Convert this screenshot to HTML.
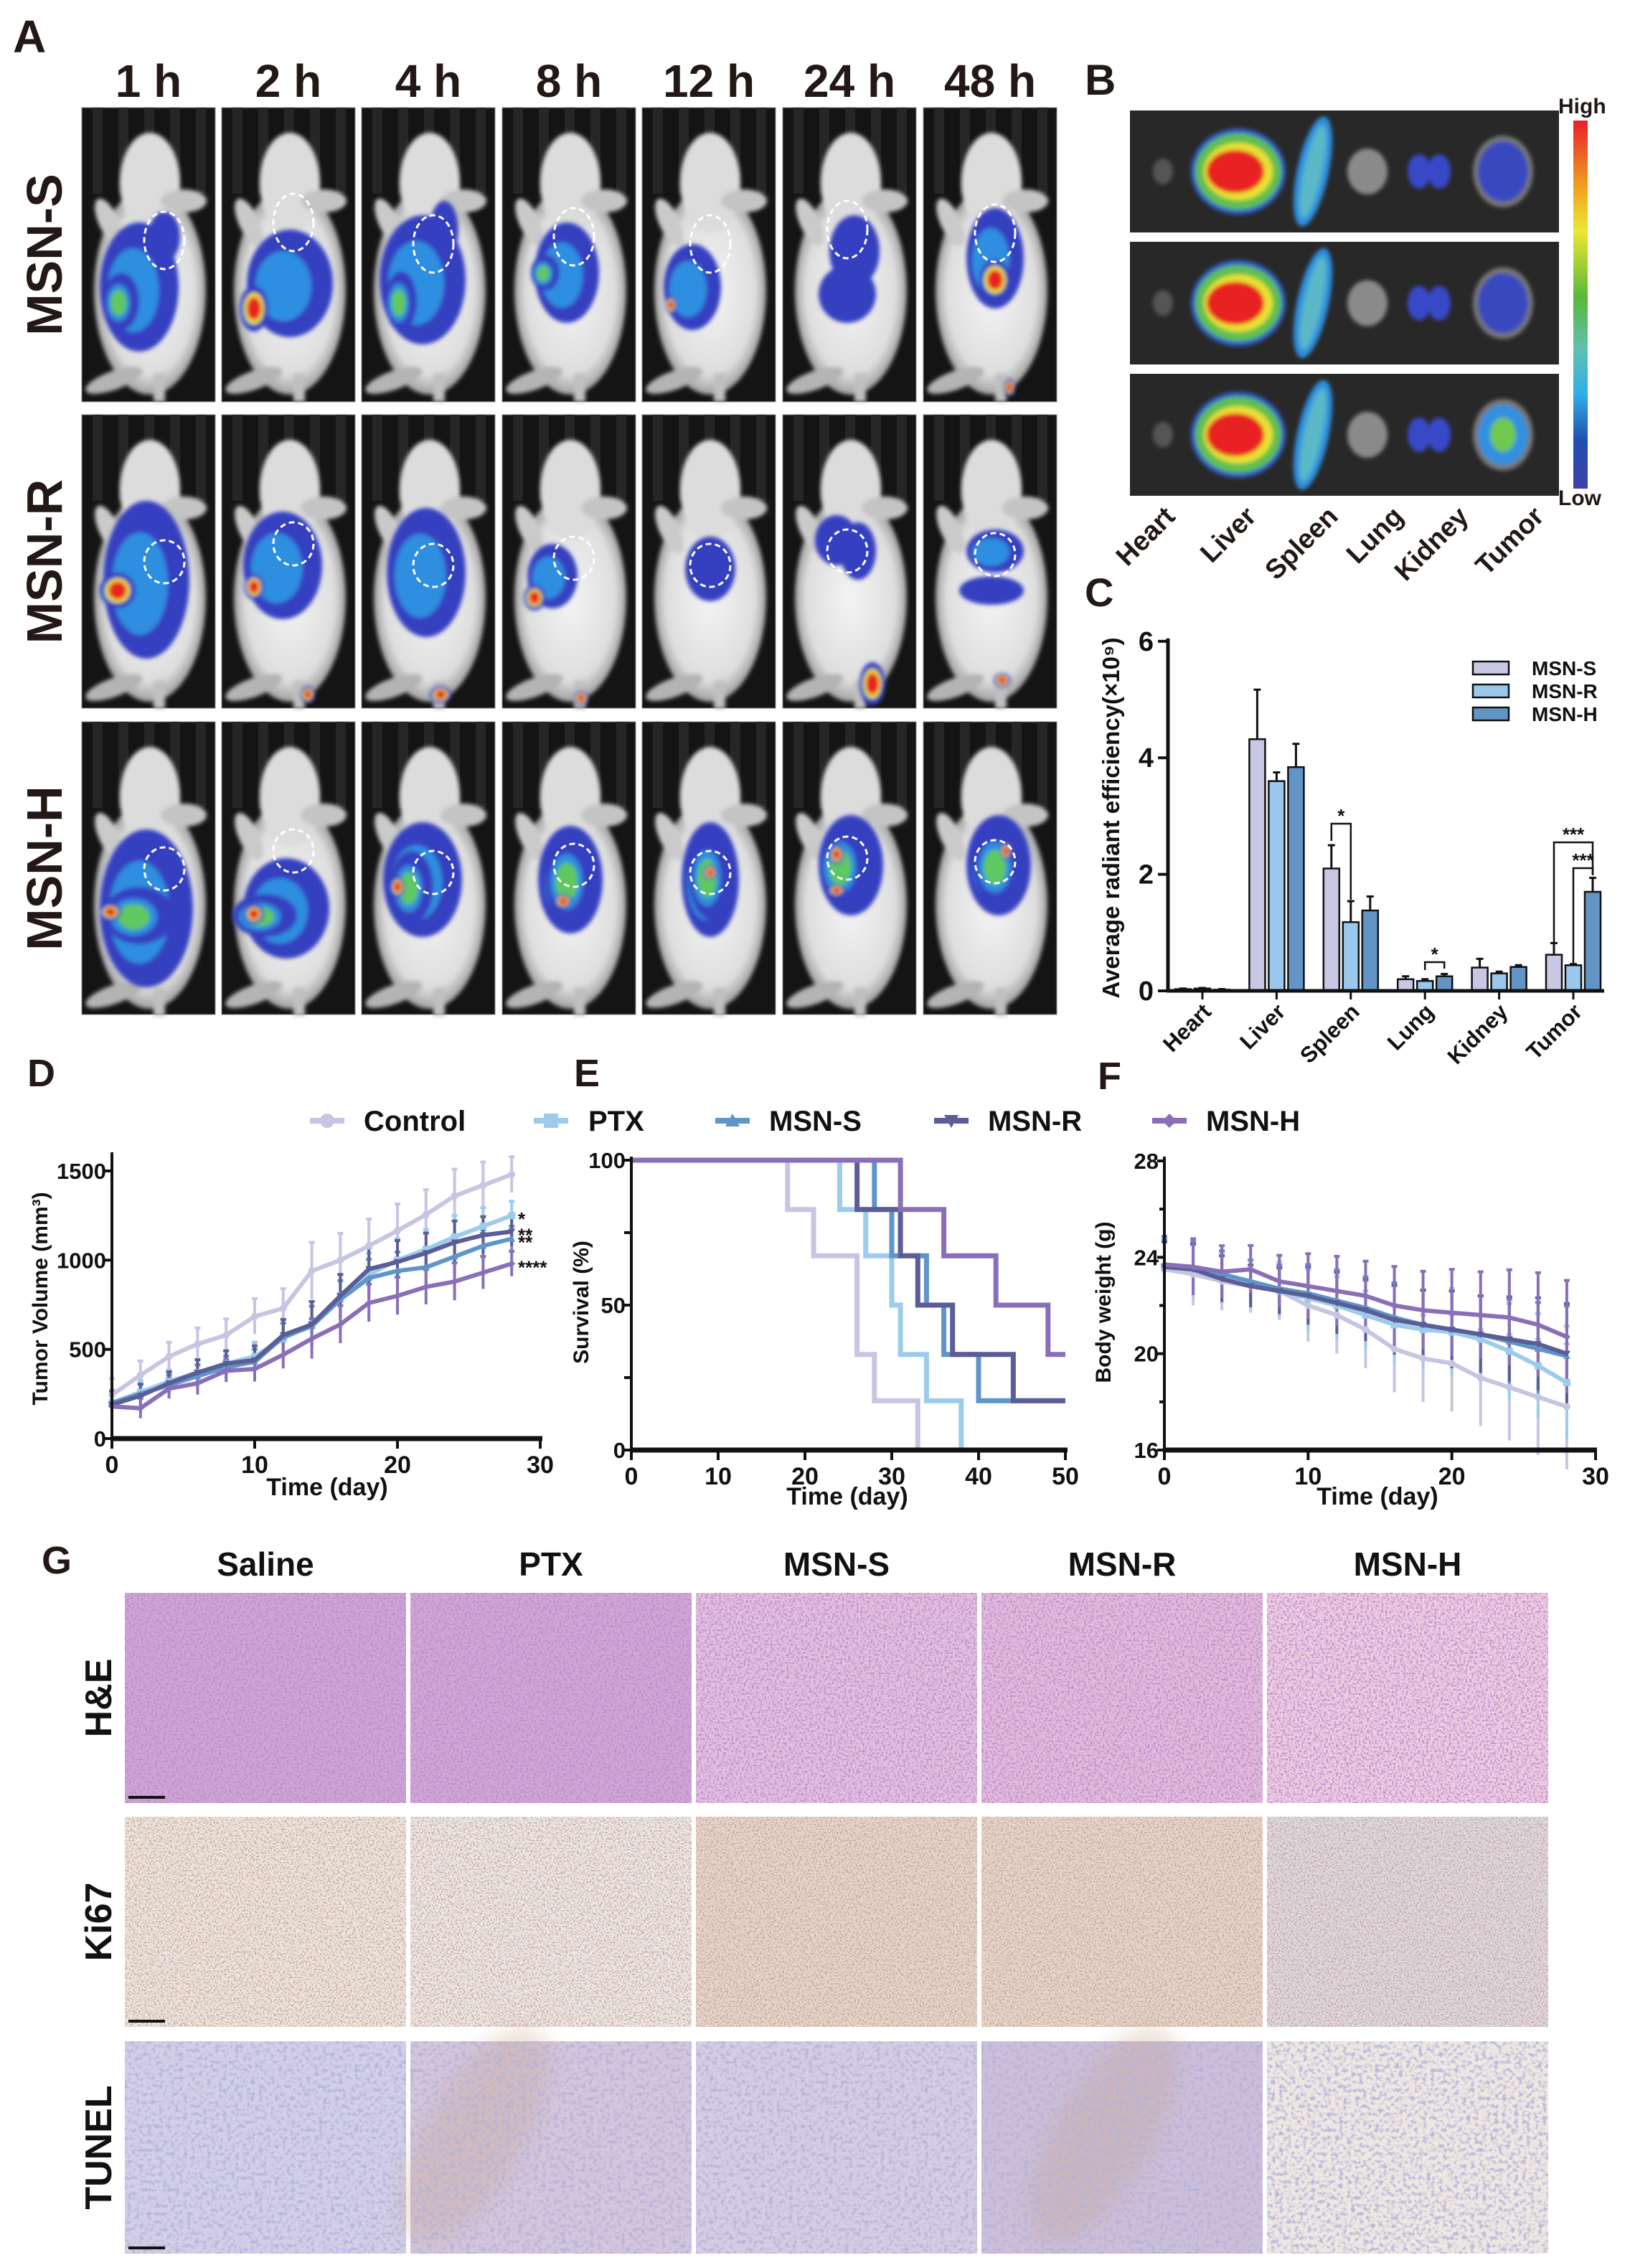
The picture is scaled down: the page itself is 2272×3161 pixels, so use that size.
<!DOCTYPE html>
<html><head><meta charset="utf-8">
<style>
html,body{margin:0;padding:0;background:#fff;}
svg{display:block;}
text{font-family:"Liberation Sans",Arial,sans-serif;}
.nar{font-family:"Liberation Sans Narrow","Liberation Sans",sans-serif;}
</style></head>
<body>
<svg id="fig" xmlns="http://www.w3.org/2000/svg" width="2272" height="3161" viewBox="0 0 2272 3161">
<defs>
  <filter id="soft" x="-20%" y="-20%" width="140%" height="140%"><feGaussianBlur stdDeviation="3"/></filter>
  <filter id="softer" x="-20%" y="-20%" width="140%" height="140%"><feGaussianBlur stdDeviation="14"/></filter>
  <linearGradient id="cbar" x1="0" y1="0" x2="0" y2="1">
    <stop offset="0" stop-color="#e8202a"/><stop offset="0.18" stop-color="#f0a020"/>
    <stop offset="0.3" stop-color="#ece830"/><stop offset="0.48" stop-color="#58b838"/>
    <stop offset="0.62" stop-color="#60c0b0"/><stop offset="0.74" stop-color="#30b0e8"/>
    <stop offset="0.87" stop-color="#2050b0"/><stop offset="1" stop-color="#4040a8"/>
  </linearGradient>
  <radialGradient id="bodyg" cx="0.5" cy="0.5" r="0.5">
    <stop offset="0" stop-color="#f4f4f4"/><stop offset="0.8" stop-color="#dedede"/><stop offset="1" stop-color="#a0a0a0"/>
  </radialGradient>
  <filter id="hHE" x="0" y="0" width="100%" height="100%">
    <feTurbulence type="fractalNoise" baseFrequency="0.35" numOctaves="2" seed="3"/>
    <feColorMatrix type="matrix" values="0 0 0 0 0.5  0 0 0 0 0.25  0 0 0 0 0.6  4 0 0 0 -1.8"/>
  </filter>
  <filter id="hKi" x="0" y="0" width="100%" height="100%">
    <feTurbulence type="fractalNoise" baseFrequency="0.45" numOctaves="2" seed="7"/>
    <feColorMatrix type="matrix" values="0 0 0 0 0.5  0 0 0 0 0.35  0 0 0 0 0.3  4.5 0 0 0 -2.1"/>
  </filter>
  <filter id="hTU" x="0" y="0" width="100%" height="100%">
    <feTurbulence type="fractalNoise" baseFrequency="0.18" numOctaves="2" seed="11"/>
    <feColorMatrix type="matrix" values="0 0 0 0 0.45  0 0 0 0 0.45  0 0 0 0 0.7  3.5 0 0 0 -1.6"/>
  </filter>
</defs>
<g id="panelA"></g>
<g id="panelB"></g>
<g id="panelC"></g>
<g id="panelD"></g>
<g id="panelE"></g>
<g id="panelF"></g>
<g id="legendDEF"></g>
<g id="panelG"></g>
</svg>
<script>
// ---------- chart data ----------
const organs = ["Heart","Liver","Spleen","Lung","Kidney","Tumor"];
const cGroups = ["MSN-S","MSN-R","MSN-H"];
const cMSNS = [0.03,4.32,2.1,0.2,0.4,0.62];
const cMSNR = [0.04,3.6,1.18,0.17,0.3,0.44];
const cMSNH = [0.02,3.84,1.38,0.25,0.41,1.7];
const cErrS = [0.01,0.85,0.4,0.05,0.15,0.2];
const cErrR = [0.01,0.15,0.36,0.03,0.03,0.02];
const cErrH = [0.01,0.4,0.24,0.04,0.03,0.24];
const cTicks = [0,2,4,6];

const days = [0,2,4,6,8,10,12,14,16,18,20,22,24,26,28];
const groups = ["Control","PTX","MSN-S","MSN-R","MSN-H"];
const volControl = [245,355,460,530,580,685,730,940,1000,1080,1165,1255,1360,1420,1480];
const volPTX = [200,260,320,370,420,460,560,640,800,920,1000,1060,1130,1190,1250];
const volMSNS = [200,250,300,350,400,430,570,630,780,900,940,960,1020,1080,1120];
const volMSNR = [190,240,310,370,420,440,580,640,800,950,990,1040,1100,1140,1160];
const volMSNH = [180,170,280,310,380,390,470,560,640,760,800,850,880,930,980];
const volErr = [90,80,80,90,90,100,110,160,150,150,150,140,150,130,100];
const volTicks = [0,500,1000,1500];
const volStars = ["*","**","**","****"];

const survControl = [[0,100],[18,83],[21,67],[26,33],[28,17],[33,0]];
const survPTX = [[0,100],[24,83],[27,67],[30,50],[31,33],[34,17],[38,0]];
const survMSNS = [[0,100],[28,83],[30,67],[34,50],[36,33],[40,17],[50,17]];
const survMSNR = [[0,100],[26,83],[31,67],[33,50],[37,33],[44,17],[50,17]];
const survMSNH = [[0,100],[31,83],[36,67],[42,50],[48,33],[50,33]];
const survTicksX = [0,10,20,30,40,50];
const survTicksY = [0,50,100];

const bwControl = [23.5,23.3,23.0,22.8,22.6,22.0,21.6,21.0,20.2,19.8,19.6,19.0,18.6,18.2,17.8];
const bwPTX = [23.6,23.5,23.2,22.9,22.6,22.3,22.0,21.6,21.2,21.0,20.9,20.6,20.1,19.5,18.8];
const bwMSNS = [23.7,23.6,23.3,23.0,22.7,22.5,22.2,21.9,21.5,21.2,21.0,20.8,20.5,20.2,19.9];
const bwMSNR = [23.6,23.5,23.1,22.8,22.6,22.4,22.1,21.8,21.4,21.2,21.0,20.8,20.6,20.4,20.0];
const bwMSNH = [23.7,23.6,23.4,23.5,23.0,22.8,22.6,22.4,22.0,21.8,21.7,21.6,21.5,21.2,20.7];
const bwErr = [1.3,1.3,1.2,1.1,1.2,1.5,1.6,1.6,1.8,1.8,2.0,2.0,2.2,2.4,2.6];
const bwTicks = [16,20,24,28];
const timeTicks = [0,10,20,30];

const NS="http://www.w3.org/2000/svg";
function mk(tag, attrs, parent, txt){
  const e=document.createElementNS(NS,tag);
  for(const k in attrs) e.setAttribute(k,attrs[k]);
  if(txt!==undefined) e.textContent=txt;
  parent.appendChild(e); return e;
}
const gColors = ["#c6c5e2","#9ccbec","#5f95c8","#5a5d96","#8a6fb8"];

// ---------- Panel A ----------
const A=document.getElementById('panelA');
let t;
t=mk('text',{x:18,y:73,'font-size':64,'font-weight':'bold',fill:'#231815'},A,'A');


const colX=[114,309,504,700,895,1091,1287], rowY=[150,578,1006], rowH=[410,409,408], TW=186;
const times=["1 h","2 h","4 h","8 h","12 h","24 h","48 h"];
times.forEach((s,i)=>{
  const e=mk('text',{x:colX[i]+TW/2,y:135,'font-size':64,'font-weight':'bold','text-anchor':'middle',fill:'#231815'},A,s);
  
  
});
["MSN-S","MSN-R","MSN-H"].forEach((s,r)=>{
  const cy=rowY[r]+rowH[r]/2;
  const e=mk('text',{x:0,y:0,'font-size':70,'font-weight':'bold','text-anchor':'middle',fill:'#231815',transform:`translate(86,${cy}) rotate(-90)`},A,s);
  
  
});
const blobs=[
 [[[80,250,55,90,1],[55,270,25,40,2],[115,180,22,35,0]],[[95,245,60,75,1],[45,280,20,32,3]],[[85,240,60,90,1],[55,270,22,42,2],[115,170,20,40,0]],[[90,230,45,70,1],[60,230,20,25,2]],[[70,250,40,60,1],[40,275,8,12,3]],[[100,200,35,50,0],[90,260,40,40,0]],[[100,210,40,70,1],[100,240,22,28,3],[120,390,8,12,3]]],
 [[[90,230,60,110,1],[50,245,25,25,3]],[[85,210,55,75,1],[45,240,14,18,3],[120,390,10,12,3]],[[90,220,55,90,1],[110,390,15,12,3]],[[70,225,35,45,1],[45,255,15,18,3],[110,395,10,10,3]],[[95,215,35,45,0]],[[75,175,30,35,0],[105,190,25,40,0],[125,375,18,30,3]],[[100,190,40,30,1],[95,245,45,20,0],[110,370,12,10,3]]],
 [[[90,260,65,110,1],[80,270,50,40,2],[40,265,15,12,3]],[[90,260,60,70,1],[60,270,45,30,2],[45,268,14,14,3]],[[85,220,55,80,1],[70,230,30,50,2],[50,230,10,15,3]],[[95,220,45,75,1],[95,220,35,60,2],[85,250,12,10,3]],[[95,220,40,80,1],[95,215,30,60,2],[95,210,10,10,3]],[[95,200,45,70,1],[85,200,35,55,2],[75,185,10,14,3],[75,235,12,8,3]],[[105,200,45,70,1],[105,200,35,55,2],[115,180,8,12,3]]]
];
const circ=[[115,175],[100,150],[100,180],[100,170],[95,180],[90,160],[100,165]];
for(let r=0;r<3;r++){for(let c=0;c<7;c++){
  const g=mk('g',{transform:`translate(${colX[c]},${rowY[r]})`},A);
  
  
  const H=rowH[r];
  mk('rect',{x:0,y:0,width:TW,height:H,fill:'#141414',stroke:'#888','stroke-width':1},g);
  for(let k=0;k<5;k++) mk('rect',{x:15+k*36,y:0,width:14,height:120,fill:'#262626'},g);
  const b=mk('g',{filter:'url(#soft)'},g);
  mk('ellipse',{cx:95,cy:255,rx:78,ry:145,fill:'url(#bodyg)'},b);
  mk('ellipse',{cx:95,cy:105,rx:42,ry:70,fill:'#dcdcdc'},b);
  mk('ellipse',{cx:142,cy:130,rx:32,ry:16,fill:'#c4c4c4'},b);
  mk('ellipse',{cx:38,cy:160,rx:14,ry:36,fill:'#cacaca',transform:'rotate(-25 38 160)'},b);
  mk('rect',{x:100,y:370,width:16,height:40,fill:'#c0c0c0'},b);
  mk('ellipse',{cx:45,cy:380,rx:42,ry:13,fill:'#b4b4b4',transform:'rotate(-20 45 380)'},b);
  const h=mk('g',{filter:'url(#soft)'},g);
  blobs[r][c].forEach(q=>{
    const [x,y,rx,ry,l]=q;
    mk('ellipse',{cx:x,cy:y,rx:rx,ry:ry,fill:'#3540c0'},h);
    if(l>=1) mk('ellipse',{cx:x-rx*0.15,cy:y+ry*0.05,rx:rx*0.65,ry:ry*0.65,fill:'#2f8ee0'},h);
    if(l>=2) mk('ellipse',{cx:x-rx*0.15,cy:y+ry*0.05,rx:rx*0.45,ry:ry*0.45,fill:'#60c860'},h);
    if(l>=3){ mk('ellipse',{cx:x,cy:y,rx:rx*0.7,ry:ry*0.7,fill:'#e8e030'},h); mk('ellipse',{cx:x,cy:y,rx:rx*0.5,ry:ry*0.5,fill:'#e82020'},h); }
  });
  const cc=circ[c];
  mk('ellipse',{cx:cc[0],cy:cc[1]+ (r==0?10:30),rx:28,ry:(r==0?40:30),fill:'none',stroke:'#fff','stroke-width':3,'stroke-dasharray':'8 5'},g);
}}

// ---------- Panel B ----------
const B=document.getElementById('panelB');
t=mk('text',{x:1512,y:132,'font-size':60,'font-weight':'bold',fill:'#231815'},B,'B');


const bRows=[154,337,521], bH=[170,171,170];
const orgX=[1621,1726,1830,1906,1992,2095];
const tumorL=[0,0,2];
bRows.forEach((y,r)=>{
  const g=mk('g',{},B);
  
  
  mk('rect',{x:1575,y:y,width:598,height:bH[r],fill:'#282828'},g);
  const cy=y+bH[r]/2;
  const s=mk('g',{filter:'url(#soft)'},g);
  mk('ellipse',{cx:orgX[0],cy:cy,rx:14,ry:18,fill:'#555'},s);
  mk('ellipse',{cx:orgX[1],cy:cy,rx:66,ry:60,fill:'#3060c8'},s);
  mk('ellipse',{cx:orgX[1],cy:cy,rx:60,ry:53,fill:'#60c050'},s);
  mk('ellipse',{cx:orgX[1],cy:cy,rx:48,ry:40,fill:'#e8e030'},s);
  mk('ellipse',{cx:orgX[1]-4,cy:cy,rx:40,ry:30,fill:'#e82020'},s);
  mk('ellipse',{cx:orgX[2],cy:cy,rx:22,ry:78,fill:'#2f90e0',transform:`rotate(12 ${orgX[2]} ${cy})`},s);
  mk('ellipse',{cx:orgX[2],cy:cy,rx:13,ry:66,fill:'#5ab8c8',transform:`rotate(12 ${orgX[2]} ${cy})`},s);
  mk('ellipse',{cx:orgX[3],cy:cy,rx:28,ry:32,fill:'#8a8a8a'},s);
  mk('ellipse',{cx:orgX[4]-14,cy:cy,rx:16,ry:24,fill:'#3848c8'},s);
  mk('ellipse',{cx:orgX[4]+14,cy:cy,rx:16,ry:24,fill:'#3848c8'},s);
  mk('ellipse',{cx:orgX[5],cy:cy,rx:42,ry:50,fill:'#777'},s);
  mk('ellipse',{cx:orgX[5],cy:cy,rx:35,ry:42,fill:tumorL[r]?'#3090e0':'#3848c0'},s);
  if(tumorL[r]) mk('ellipse',{cx:orgX[5],cy:cy,rx:18,ry:24,fill:'#70c850'},s);
});
const cb=mk('rect',{x:2193,y:168,width:20,height:513,fill:'url(#cbar)'},B);


t=mk('text',{x:2172,y:158,'font-size':30,'font-weight':'bold',fill:'#231815'},B,'High');


t=mk('text',{x:2172,y:704,'font-size':30,'font-weight':'bold',fill:'#231815'},B,'Low');


const bLabX=[1640,1753,1867,1958,2049,2154];
organs.forEach((o,i)=>{
  const e=mk('text',{x:0,y:0,'font-size':38,'font-weight':'bold','text-anchor':'end',fill:'#231815',transform:`translate(${bLabX[i]},${722}) rotate(-45)`},B,o);
  
  
});

// ---------- Panel C ----------
const C=document.getElementById('panelC');
t=mk('text',{x:1512,y:845,'font-size':56,'font-weight':'bold',fill:'#231815'},C,'C');


const cY=v=>1381-v*81.2;
const cX=(i,j)=>1676+i*103.4+(j-1)*27;
const cVals=[cMSNS,cMSNR,cMSNH], cErrs=[cErrS,cErrR,cErrH], cCols=["#c8c8e4","#9ac8ec","#6394c6"];
organs.forEach((o,i)=>{
  cVals.forEach((arr,j)=>{
    const x=cX(i,j), v=arr[i], e=cErrs[j][i];
    const ln=mk('line',{x1:x,x2:x,y1:cY(v),y2:cY(v+e),stroke:'#111','stroke-width':3},C);
    
    
    mk('line',{x1:x-5,x2:x+5,y1:cY(v+e),y2:cY(v+e),stroke:'#111','stroke-width':3},C);
    const r=mk('rect',{x:x-11,y:cY(v),width:22,height:cY(0)-cY(v),fill:cCols[j],stroke:'#111','stroke-width':2.5},C);
    
    
  });
  mk('line',{x1:cX(i,1),x2:cX(i,1),y1:cY(0),y2:cY(0)+12,stroke:'#111','stroke-width':3},C);
  const e=mk('text',{x:0,y:0,'font-size':31,'font-weight':'bold','text-anchor':'end',fill:'#111',transform:`translate(${cX(i,1)+14},${1412}) rotate(-45)`},C,o);
  
  
});
mk('line',{x1:1628,x2:1628,y1:cY(6)-4,y2:cY(0)+2,stroke:'#111','stroke-width':5},C);
mk('line',{x1:1626,x2:2236,y1:cY(0),y2:cY(0),stroke:'#111','stroke-width':5},C);
cTicks.forEach(v=>{
  mk('line',{x1:1614,x2:1628,y1:cY(v),y2:cY(v),stroke:'#111','stroke-width':4},C);
  const e=mk('text',{x:1608,y:cY(v)+13,'font-size':38,'font-weight':'bold','text-anchor':'end',fill:'#111'},C,String(v));
  
  
});
t=mk('text',{x:0,y:0,'font-size':33,'font-weight':'bold','text-anchor':'middle',fill:'#111',transform:'translate(1560,1140) rotate(-90)'},C,'Average radiant efficiency(×10⁹)');


function bracket(i1,j1,i2,j2,yTop,y1,y2,lab){
  const x1=cX(i1,j1),x2=cX(i2,j2);
  const p=mk('path',{d:`M${x1},${y1} V${yTop} H${x2} V${y2}`,fill:'none',stroke:'#111','stroke-width':2.5},C);
  
  
  const e=mk('text',{x:(x1+x2)/2,y:yTop-2,'font-size':26,'font-weight':'bold','text-anchor':'middle',fill:'#111'},C,lab);
  
  
}
bracket(2,0,2,1,1148,1172,1254,'*');
bracket(3,1,3,2,1341,1352,1350,'*');
bracket(5,0,5,2,1174,1314,1220,'***');
bracket(5,1,5,2,1210,1346,1218,'***');
cGroups.forEach((g,j)=>{
  const y=931+j*32;
  const r=mk('rect',{x:2053,y:y-9,width:50,height:18,fill:cCols[j],stroke:'#111','stroke-width':2.5},C);
  
  
  const e=mk('text',{x:2135,y:y+10,'font-size':28,'font-weight':'bold',fill:'#111'},C,g);
  
  
});

// ---------- shared legend ----------
const L=document.getElementById('legendDEF');
const legMX=[456,768,1021,1326,1630], legTX=[507,820,1072,1377,1681];
const markers=['circle','square','up','down','diamond'];
function marker(par,type,x,y,s,col){
  let e;
  if(type=='circle') e=mk('circle',{cx:x,cy:y,r:s,fill:col},par);
  else if(type=='square') e=mk('rect',{x:x-s,y:y-s,width:2*s,height:2*s,fill:col},par);
  else if(type=='up') e=mk('path',{d:`M${x},${y-s} L${x+s},${y+s*0.8} L${x-s},${y+s*0.8}Z`,fill:col},par);
  else if(type=='down') e=mk('path',{d:`M${x},${y+s} L${x+s},${y-s*0.8} L${x-s},${y-s*0.8}Z`,fill:col},par);
  else e=mk('path',{d:`M${x},${y-s} L${x+s},${y} L${x},${y+s} L${x-s},${y}Z`,fill:col},par);
  return e;
}
groups.forEach((g,i)=>{
  const ln=mk('line',{x1:legMX[i]-24,x2:legMX[i]+24,y1:1562,y2:1562,stroke:gColors[i],'stroke-width':8},L);
  
  
  marker(L,markers[i],legMX[i],1562,10,gColors[i]);
  const e=mk('text',{x:legTX[i],y:1576,'font-size':40,'font-weight':'bold',fill:'#111'},L,g);
  
  
});

// ---------- Panel D ----------
const D=document.getElementById('panelD');
t=mk('text',{x:38,y:1514,'font-size':54,'font-weight':'bold',fill:'#231815'},D,'D');


const dX=d=>156+d*(753-156)/30;
const dY=v=>2005-v*(2005-1632)/1500;
const vols=[volControl,volPTX,volMSNS,volMSNR,volMSNH];
function lineChart(par,xs,ysArr,err,sx,sy,scale){
  ysArr.forEach((ys,gi)=>{
    ys.forEach((v,k)=>{
      const e=mk('line',{x1:sx(xs[k]),x2:sx(xs[k]),y1:sy(v-err[k]*scale[gi]),y2:sy(v+err[k]*scale[gi]),stroke:gColors[gi],'stroke-width':4},par);
      
      
      mk('line',{x1:sx(xs[k])-4,x2:sx(xs[k])+4,y1:sy(v+err[k]*scale[gi]),y2:sy(v+err[k]*scale[gi]),stroke:gColors[gi],'stroke-width':4},par);
    });
  });
  ysArr.forEach((ys,gi)=>{
    const d=ys.map((v,k)=>(k?'L':'M')+sx(xs[k]).toFixed(1)+','+sy(v).toFixed(1)).join(' ');
    const p=mk('path',{d:d,fill:'none',stroke:gColors[gi],'stroke-width':6,'stroke-linejoin':'round'},par);
    
    
    ys.forEach((v,k)=>{
      const m=marker(par,markers[gi],sx(xs[k]),sy(v),5,gColors[gi]);
      
      
    });
  });
}
lineChart(D,days,vols,volErr,dX,dY,[1,0.8,0.7,0.8,0.7]);
function axes(par,x0,x1,y0,y1,xt,sx,yt,sy){
  mk('line',{x1:x0,x2:x0,y1:y1,y2:y0+3,stroke:'#111','stroke-width':4},par);
  mk('line',{x1:x0-2,x2:x1,y1:y0,y2:y0,stroke:'#111','stroke-width':7},par);
  xt.forEach(v=>{
    mk('line',{x1:sx(v),x2:sx(v),y1:y0,y2:y0+14,stroke:'#111','stroke-width':4},par);
    const e=mk('text',{x:sx(v),y:y0+48,'font-size':34,'font-weight':'bold','text-anchor':'middle',fill:'#111',class:'nar'},par,String(v));
    
    
  });
  yt.forEach(v=>{
    mk('line',{x1:x0-10,x2:x0,y1:sy(v),y2:sy(v),stroke:'#111','stroke-width':4},par);
    const e=mk('text',{x:x0-8,y:sy(v)+11,'font-size':31,'font-weight':'bold','text-anchor':'end',fill:'#111',class:'nar'},par,String(v));
    
    
  });
}
axes(D,156,756,2005,1606,timeTicks,dX,volTicks,dY);
t=mk('text',{x:456,y:2084,'font-size':34,'font-weight':'bold','text-anchor':'middle',fill:'#111',class:'nar'},D,'Time (day)');


t=mk('text',{x:0,y:0,'font-size':30,'font-weight':'bold','text-anchor':'middle',fill:'#111',transform:'translate(66,1810) rotate(-90)'},D,'Tumor Volume (mm³)');


const starVals=[volPTX[14],volMSNR[14],volMSNS[14],volMSNH[14]];
volStars.forEach((s,i)=>{
  const e=mk('text',{x:722,y:dY(starVals[i])+14,'font-size':26,'font-weight':'bold',fill:'#111'},D,s);
  
  
});

// ---------- Panel E ----------
const E=document.getElementById('panelE');
t=mk('text',{x:800,y:1514,'font-size':54,'font-weight':'bold',fill:'#231815'},E,'E');


const eX=d=>880+d*(605/50);
const eY=p=>2021-p*4.04;
const survs=[survControl,survPTX,survMSNS,survMSNR,survMSNH];
survs.forEach((s,gi)=>{
  let d='M'+eX(s[0][0])+','+eY(s[0][1]);
  for(let k=1;k<s.length;k++){ d+=' H'+eX(s[k][0]).toFixed(1)+' V'+eY(s[k][1]).toFixed(1); }
  const p=mk('path',{d:d,fill:'none',stroke:gColors[gi],'stroke-width':7},E);
  
  
});
axes(E,880,1488,2021,1612,survTicksX,eX,survTicksY,eY);
[25,75].forEach(v=>mk('line',{x1:870,x2:880,y1:eY(v),y2:eY(v),stroke:'#111','stroke-width':4},E));
t=mk('text',{x:1181,y:2097,'font-size':34,'font-weight':'bold','text-anchor':'middle',fill:'#111',class:'nar'},E,'Time (day)');


t=mk('text',{x:0,y:0,'font-size':30,'font-weight':'bold','text-anchor':'middle',fill:'#111',transform:'translate(820,1815) rotate(-90)'},E,'Survival (%)');



// ---------- Panel F ----------
const F=document.getElementById('panelF');
t=mk('text',{x:1530,y:1518,'font-size':54,'font-weight':'bold',fill:'#231815'},F,'F');


const fX=d=>1623+d*(601/30);
const fY=g=>2021-(g-16)*(403/12);
lineChart(F,days,[bwControl,bwPTX,bwMSNS,bwMSNR,bwMSNH],bwErr,fX,fY,[1,0.9,0.8,0.8,0.9]);
axes(F,1623,2226,2021,1612,timeTicks,fX,bwTicks,fY);
[18,22,26].forEach(v=>mk('line',{x1:1616,x2:1623,y1:fY(v),y2:fY(v),stroke:'#111','stroke-width':4},F));
t=mk('text',{x:1920,y:2097,'font-size':34,'font-weight':'bold','text-anchor':'middle',fill:'#111',class:'nar'},F,'Time (day)');


t=mk('text',{x:0,y:0,'font-size':30,'font-weight':'bold','text-anchor':'middle',fill:'#111',transform:'translate(1548,1815) rotate(-90)'},F,'Body weight (g)');



// ---------- Panel G ----------
const G=document.getElementById('panelG');
t=mk('text',{x:58,y:2193,'font-size':54,'font-weight':'bold',fill:'#231815'},G,'G');


const gx=[174,572,970,1368,1766], gy=[2220,2532,2845], gw=392, gh=[293,293,296];
["Saline","PTX","MSN-S","MSN-R","MSN-H"].forEach((s,i)=>{
  const e=mk('text',{x:gx[i]+gw/2,y:2196,'font-size':46,'font-weight':'bold','text-anchor':'middle',fill:'#111'},G,s);
  
  
});
const rowNames=["H&E","Ki67","TUNEL"];
rowNames.forEach((s,r)=>{
  const e=mk('text',{x:0,y:0,'font-size':52,'font-weight':'bold','text-anchor':'middle',fill:'#111',transform:`translate(155,${gy[r]+gh[r]/2}) rotate(-90)`},G,s);
  
  
});
const base=[["#cfa6d6","#d2a8d6","#e4c2e0","#e4bddc","#f0cfe2"],["#f2e9e2","#f1ebe8","#ead8ce","#ead8ce","#e2dbe4"],["#d3cfe8","#d4c6dc","#d6cde4","#cdbfd9","#eee7e2"]];
const flt=["url(#hHE)","url(#hKi)","url(#hTU)"];
for(let r=0;r<3;r++)for(let c=0;c<5;c++){
  const g=mk('g',{},G);
  
  
  mk('rect',{x:gx[c],y:gy[r],width:gw,height:gh[r],fill:base[r][c]},g);
  if(r==2 && (c==1||c==3)) mk('ellipse',{cx:gx[c]+(c==1?90:170),cy:gy[r]+130,rx:70,ry:170,fill:'#c8a080',opacity:0.3,filter:'url(#softer)',transform:`rotate(30 ${gx[c]+(c==1?90:170)} ${gy[r]+130})`},g);
  mk('rect',{x:gx[c],y:gy[r],width:gw,height:gh[r],filter:flt[r],opacity:0.9},g);
  if(c==0){
    const sb=mk('line',{x1:179,x2:230,y1:gy[r]+gh[r]-8,y2:gy[r]+gh[r]-8,stroke:'#111','stroke-width':4},g);
    
    
  }
}
</script>
</body></html>
